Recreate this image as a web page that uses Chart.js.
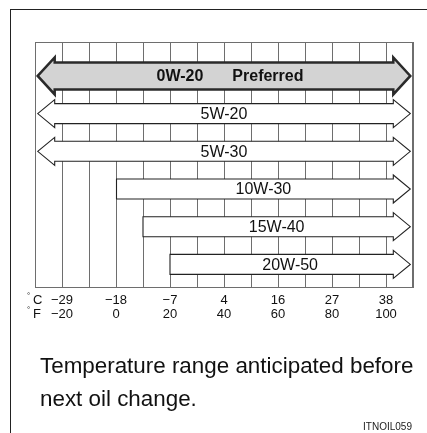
<!DOCTYPE html>
<html>
<head>
<meta charset="utf-8">
<title>Oil viscosity chart</title>
<script src="https://cdn.jsdelivr.net/npm/chart.js@4/dist/chart.umd.min.js"></script>
<style>
  html, body { margin: 0; padding: 0; background: #fff; }
  body { width: 427px; height: 433px; position: relative; overflow: hidden;
         font-family: "Liberation Sans", Arial, sans-serif; color: #111; }
  #frame { position: absolute; left: 10px; top: 9px; right: -5px; bottom: -5px;
           border-top: 1.5px solid #222; border-left: 1.5px solid #222; }
  #chart { position: absolute; left: 0; top: 0; }
  #caption { position: absolute; left: 40px; top: 349px; font-size: 22.4px; line-height: 33px; }
  #code { position: absolute; right: 15px; top: 421px; font-size: 10px; line-height: 12px; color: #222; }
</style>
</head>
<body>
<div id="frame"></div>
<canvas id="chart" width="427" height="433"></canvas>
<div id="caption">Temperature range anticipated before<br>next oil change.</div>
<div id="code">ITNOIL059</div>
<script>
// rows, top to bottom
var oilGrades = ['0W-20', '5W-20', '5W-30', '10W-30', '15W-40', '20W-50'];
var gradeNotes = ['Preferred', '', '', '', '', ''];
// range in degrees F (arrow tip to arrow tip)
var lowF = [-29, -29, -29, 0, 10, 20];
var highF = [109, 109, 109, 109, 109, 109];
// arrow continues below the chart range
var openBelow = [true, true, true, false, false, false];

// axis tick labels
var fahrenheitTicks = [-20, 0, 20, 40, 60, 80, 100];
var celsiusLabels = ['\u221229', '\u221218', '\u22127', '4', '16', '27', '38'];
var fahrenheitLabels = ['\u221220', '0', '20', '40', '60', '80', '100'];

var FONT = '"Liberation Sans", Arial, sans-serif';

function rowPoints(filter) {
  var pts = [];
  oilGrades.forEach(function (g, i) {
    if (filter(i)) pts.push({ x: [lowF[i], highF[i]], y: i });
  });
  return pts;
}

function arrowPath(ctx, x0, x1, yc, h, extra, head, openLeft) {
  var t = yc - h / 2, b = yc + h / 2;
  ctx.beginPath();
  if (openLeft) {
    ctx.moveTo(x0, yc);
    ctx.lineTo(x0 + head, t - extra);
    ctx.lineTo(x0 + head, t);
  } else {
    ctx.moveTo(x0, b);
    ctx.lineTo(x0, t);
  }
  ctx.lineTo(x1 - head, t);
  ctx.lineTo(x1 - head, t - extra);
  ctx.lineTo(x1, yc);
  ctx.lineTo(x1 - head, b + extra);
  ctx.lineTo(x1 - head, b);
  if (openLeft) {
    ctx.lineTo(x0 + head, b);
    ctx.lineTo(x0 + head, b + extra);
  }
  ctx.closePath();
}

/**
 * Draws each bar as an arrow, plus the grade label and the box.
 */
var arrowPlugin = {
  id: 'arrows',
  afterDatasetsDraw: function (chart) {
    var ctx = chart.ctx;
    var area = chart.chartArea;
    ctx.save();
    ctx.strokeStyle = '#6e6e6e';
    ctx.lineWidth = 1;
    ctx.strokeRect(area.left + 0.5, area.top + 0.5, area.right - area.left - 1, area.bottom - area.top);

    chart.data.datasets.forEach(function (ds, di) {
      var meta = chart.getDatasetMeta(di);
      var preferred = di === 0;
      meta.data.forEach(function (el, j) {
        var row = ds.data[j].y;
        var p = el.getProps(['x', 'y', 'base', 'height'], true);
        var x0 = Math.min(p.x, p.base), x1 = Math.max(p.x, p.base);
        arrowPath(ctx, x0, x1, p.y, p.height, preferred ? 5 : 4, 17, openBelow[row]);
        ctx.fillStyle = preferred ? '#d3d3d3' : '#fff';
        ctx.fill();
        ctx.lineJoin = 'miter';
        ctx.strokeStyle = preferred ? '#2a2a2a' : '#222';
        ctx.lineWidth = preferred ? 2.5 : 1.1;
        ctx.stroke();

        var cx = (x0 + x1) / 2;
        ctx.fillStyle = '#111';
        ctx.textBaseline = 'middle';
        if (gradeNotes[row]) {
          ctx.font = 'bold 16px ' + FONT;
          var gap = 29;
          var w1 = ctx.measureText(oilGrades[row]).width;
          var w2 = ctx.measureText(gradeNotes[row]).width;
          var sx = cx + 6 - (w1 + gap + w2) / 2;
          ctx.textAlign = 'left';
          ctx.fillText(oilGrades[row], sx, p.y + 1);
          ctx.fillText(gradeNotes[row], sx + w1 + gap, p.y + 1);
        } else {
          ctx.font = '16px ' + FONT;
          ctx.textAlign = 'center';
          ctx.fillText(oilGrades[row], cx, p.y + 1);
        }
      });
    });

    // unit prefixes in front of the tick label rows
    ctx.fillStyle = '#111';
    ctx.textAlign = 'left';
    ctx.textBaseline = 'alphabetic';
    ['C', 'F'].forEach(function (u, k) {
      var base = 304 + k * 14;
      ctx.font = '8px ' + FONT;
      ctx.fillText('\u00b0', area.left - 8, base - 6);
      ctx.font = '13px ' + FONT;
      ctx.fillText(u, area.left - 2, base);
    });
    ctx.restore();
  }
};

new Chart(document.getElementById('chart'), {
  type: 'bar',
  data: {
    datasets: [
      {
        data: rowPoints(function (i) { return !!gradeNotes[i]; }),
        barThickness: 27,
        backgroundColor: 'rgba(0,0,0,0)',
        borderWidth: 0,
      },
      {
        data: rowPoints(function (i) { return !gradeNotes[i]; }),
        barThickness: 20,
        backgroundColor: 'rgba(0,0,0,0)',
        borderWidth: 0,
      },
    ],
  },
  options: {
    indexAxis: 'y',
    responsive: false,
    animation: false,
    devicePixelRatio: 1,
    grouped: false,
    layout: { padding: { left: 35, top: 42, right: 14, bottom: 0 } },
    plugins: { legend: { display: false }, tooltip: { enabled: false } },
    scales: {
      y: {
        type: 'linear',
        reverse: true,
        offset: false,
        min: -0.9,
        max: 5.6,
        display: false,
      },
      x: {
        type: 'linear',
        position: 'bottom',
        min: -30,
        max: 110,
        afterFit: function (scale) { scale.height = 146; },
        grid: { color: '#6e6e6e', lineWidth: 1, drawTicks: false },
        border: { display: true, color: '#6e6e6e', width: 1 },
        ticks: {
          stepSize: 10,
          autoSkip: false,
          maxRotation: 0,
          padding: 6,
          color: '#111',
          font: { family: FONT, size: 13, lineHeight: '14px' },
          callback: function (value) {
            var k = fahrenheitTicks.indexOf(value);
            if (k < 0) return '';
            return [celsiusLabels[k], fahrenheitLabels[k]];
          },
        },
      },
    },
  },
  plugins: [arrowPlugin],
});
</script>
</body>
</html>
